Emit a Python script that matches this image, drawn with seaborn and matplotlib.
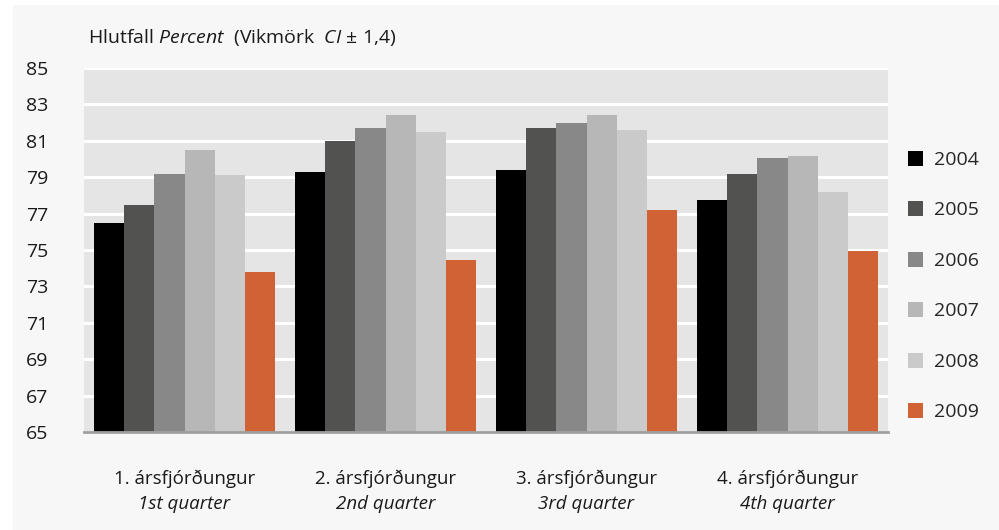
import pandas as pd
import matplotlib.pyplot as plt
import matplotlib.patches as mpatches
import seaborn as sns

# Data
quarters = ['1. ársfjórðungur', '2. ársfjórðungur', '3. ársfjórðungur', '4. ársfjórðungur']
quarters_en = ['1st quarter', '2nd quarter', '3rd quarter', '4th quarter']
years = ['2004', '2005', '2006', '2007', '2008', '2009']
v2004 = [76.5, 79.3, 79.4, 77.75]
v2005 = [77.5, 81.0, 81.7, 79.2]
v2006 = [79.2, 81.7, 82.0, 80.05]
v2007 = [80.5, 82.4, 82.4, 80.15]
v2008 = [79.1, 81.5, 81.6, 78.2]
v2009 = [73.8, 74.45, 77.2, 74.95]
year_colors = ['#000000', '#525250', '#888888', '#b6b7b6', '#cacaca', '#d06236']

values = [v2004, v2005, v2006, v2007, v2008, v2009]
rows = []
for y, vals in zip(years, values):
    for q, v in zip(quarters, vals):
        rows.append({'quarter': q, 'year': y, 'value': v})
df = pd.DataFrame(rows)

sns.set_style("white")
plt.rcParams['font.family'] = ['Open Sans', 'DejaVu Sans']
plt.rcParams['mathtext.fontset'] = 'custom'
plt.rcParams['mathtext.rm'] = 'Open Sans'
plt.rcParams['mathtext.it'] = 'Open Sans:italic'

fig = plt.figure(figsize=(9.99, 5.30), dpi=100)
fig.patch.set_facecolor('white')
# light panel behind the chart
fig.patches.append(mpatches.Rectangle((13 / 999, 0), 1 - 13 / 999, 1 - 5 / 530,
                                      transform=fig.transFigure, facecolor='#f7f7f7',
                                      edgecolor='none', zorder=-10))

ax = fig.add_axes([84 / 999, 1 - 432 / 530, 804 / 999, 364 / 530])
ax.set_facecolor('#e5e5e5')

sns.barplot(data=df, x='quarter', y='value', hue='year', palette=year_colors,
            width=0.9, saturation=1, ax=ax, zorder=3, legend=True,
            linewidth=0, edgecolor='none')

ax.set_ylim(65, 85)
ax.set_yticks(range(65, 86, 2))
ax.yaxis.grid(True, color='white', linewidth=2.2, zorder=1)
ax.set_axisbelow(True)
for s in ['top', 'right', 'left']:
    ax.spines[s].set_visible(False)
ax.spines['bottom'].set_color('#a0a0a0')
ax.spines['bottom'].set_linewidth(2)
ax.spines['bottom'].set_zorder(5)
ax.tick_params(axis='y', length=0, pad=26, labelsize=14, labelcolor='#1a1a1a')
ax.tick_params(axis='x', length=0, pad=27, labelsize=13.5, labelcolor='#1a1a1a')
ax.set_xlabel('')
ax.set_ylabel('')
ax.set_xlim(-0.5, 3.5)

# second (italic) line of the category labels
for i, lab in enumerate(quarters_en):
    ax.text(i, -0.197, lab, transform=ax.get_xaxis_transform(), ha='center', va='center',
            fontsize=13.5, style='italic', color='#1a1a1a')

fig.text(88 / 999, 1 - 38 / 530, r'Hlutfall $Percent$  (Vikmörk  $CI$ ± 1,4)',
         fontsize=14, color='#1a1a1a', va='center', ha='left')

handles, labels = ax.get_legend_handles_labels()
ax.get_legend().remove()
fig.legend(handles, labels, loc='upper left', bbox_to_anchor=(900 / 999, 1 - 143 / 530),
           frameon=False, fontsize=14, handlelength=0.8, handleheight=0.8,
           handletextpad=0.55, labelspacing=1.66, borderaxespad=0)

plt.savefig('out.png', dpi=100, facecolor=fig.get_facecolor())
